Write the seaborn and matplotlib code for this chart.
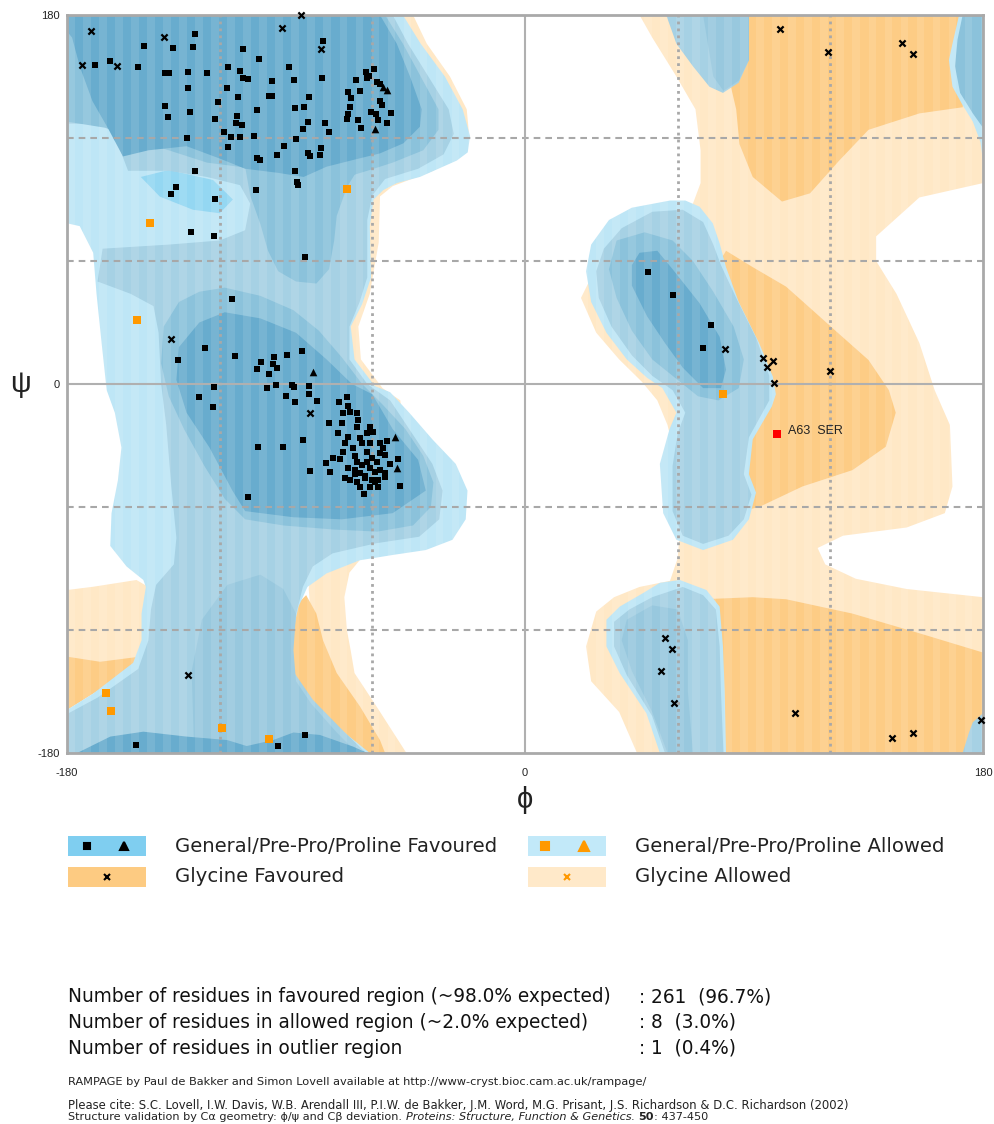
import numpy as np
import pandas as pd
import matplotlib
matplotlib.use("Agg")
import matplotlib.pyplot as plt
import seaborn as sns
from matplotlib.patches import Rectangle

# ---------------------------------------------------------------------------
# residues (phi, psi)
# ---------------------------------------------------------------------------
gen_fav_phi = [-129.6, -149.9, -138.5, -130.5, -110.8, -104.4, -169.1, -163.1, -152.1, -141.4, -139.8, -132.6,
               -125.0, -116.8, -112.1, -110.8, -108.7, -99.4, -132.3, -117.0, -112.8, -100.5, -99.4, -120.5,
               -141.5, -140.3, -131.8, -121.7, -113.2, -113.7, -111.2, -105.3, -118.3, -115.5, -112.0, -106.4,
               -132.8, -116.8, -105.3, -104.0, -97.3, -129.6, -137.3, -139.0, -121.7, -105.6,
               -79.3, -92.6, -90.8, -79.9, -84.8, -90.4, -86.7, -85.4, -87.1, -78.6, -77.2, -89.9, -94.6,
               -85.2, -84.5, -80.2, -80.4, -90.4, -89.6, -89.4,
               -59.2, -62.4, -61.4, -62.2, -66.4, -58.0, -57.0, -69.7, -64.8, -68.4, -57.0, -56.2, -68.8,
               -69.7, -69.8, -60.5, -58.6, -52.8, -65.5, -57.9, -54.1, -64.5,
               -131.3, -122.2, -86.6, -115.0, -125.6, -136.3, -114.0,
               -98.8, -93.5, -87.6, -103.9, -105.4, -98.9, -97.6, -100.5, -122.2, -128.0, -122.6, -97.9,
               -101.3, -91.5, -90.7, -85.0, -93.9, -85.0, -90.4, -81.9, -73.2, -87.1, -84.5, -78.2, -76.6,
               -76.9, -70.1, -69.4, -71.4, -68.8, -66.1, -72.0, -65.5, -73.4, -69.4, -70.7, -60.9, -62.2,
               -59.6, -64.8, -64.2, -57.0, -54.4, -67.5, -71.4, -62.2, -75.3, -72.7, -60.3, -57.0, -55.0,
               -49.8, -66.1, -64.2, -69.4, -66.8, -64.8, -60.9, -59.0, -57.0, -55.0, -70.7, -68.8, -66.1,
               -62.9, -60.2, -57.7, -55.0, -64.8, -60.9, -57.7, -49.1, -63.3, -108.7, -104.8, -95.2,
               -62.0, -58.0, -67.0, -61.0, -66.0, -63.0, -59.0, -67.0, -53.0, -56.0,
               -153.0, -97.1, -86.5,
               48.2, 58.1, 73.1, 70.1]
gen_fav_psi = [170.6, 164.9, 163.7, 164.2, 163.4, 158.5, 155.6, 157.7, 154.8, 151.5, 151.7, 152.3,
               151.9, 154.6, 152.7, 149.3, 148.6, 147.6, 144.2, 144.5, 140.1, 140.3, 140.6, 137.6,
               135.8, 130.2, 132.7, 129.4, 130.6, 127.3, 126.5, 133.5, 123.1, 120.3, 120.6, 121.1,
               119.8, 115.5, 110.2, 109.3, 111.9, 103.8, 96.1, 92.7, 90.2, 94.6,
               167.3, 154.5, 148.4, 149.4, 139.8, 134.5, 135.1, 127.8, 124.4, 127.2, 122.9, 119.4, 116.0,
               112.8, 111.2, 115.0, 111.9, 103.9, 98.7, 97.2,
               153.5, 152.2, 150.4, 149.1, 148.3, 147.5, 146.3, 142.6, 143.1, 139.7, 138.0, 136.1, 135.0,
               131.7, 129.4, 132.8, 131.7, 132.0, 128.6, 128.6, 127.2, 124.9,
               74.0, 72.3, 62.1, 41.5, 17.7, 11.6, 13.7,
               13.0, 14.0, 15.9, 10.6, 7.5, 9.6, 7.7, 5.0, -1.6, -6.2, -11.2, -0.5,
               -2.1, -0.5, -1.6, -1.0, -5.7, -5.0, -8.8, -8.4, -8.8, -27.3, -42.3, -38.7, -42.8,
               -18.9, -6.2, -10.7, -14.3, -13.5, -14.3, -18.9, -17.6, -24.0, -25.7, -28.9, -20.8, -24.0,
               -23.3, -26.5, -28.9, -28.6, -27.8, -31.4, -33.0, -33.0, -36.2, -36.6, -36.2, -33.8, -34.6,
               -36.7, -37.9, -39.5, -41.1, -42.0, -43.6, -41.1, -42.8, -42.0, -43.6, -46.0, -46.8, -47.6,
               -46.0, -46.8, -46.8, -45.2, -50.1, -50.1, -50.1, -49.8, -53.8, -55.3, -30.6, -30.9,
               -38.0, -38.0, -35.0, -29.0, -21.0, -45.0, -48.0, -44.0, -39.0, -31.0,
               -176.1, -176.4, -171.2,
               54.8, 43.3, 28.9, 17.7]

pro_fav_phi = [-55.7, -54.1, -59.0, -83.4, -51.1, -50.4]
pro_fav_psi = [145.0, 143.4, 124.2, 5.9, -26.0, -41.1]

gly_fav_phi = [-170.7, -141.8, -174.0, -160.2, -88.0, -95.4, -80.3, -139.0, -84.5, -132.6,
               100.3, 119.1, 148.2, 152.6, 78.6, 93.7, 97.6, 95.0, 97.9, 119.9,
               55.0, 57.9, 53.5, 58.6, 106.0, 144.4, 152.6, 179.2]
gly_fav_psi = [172.3, 169.1, 155.5, 155.3, 180.0, 173.5, 163.6, 22.1, -14.3, -142.0,
               173.0, 162.1, 166.5, 160.8, 17.2, 12.8, 11.2, 8.4, 0.6, 6.3,
               -124.0, -129.3, -140.0, -155.8, -160.3, -172.5, -170.4, -163.9]

allowed_phi = [-147.4, -152.4, -69.8, 77.7, -164.8, -162.8, -119.0, -100.6]
allowed_psi = [78.4, 31.2, 95.1, -5.0, -150.9, -159.5, -167.7, -173.2]

outlier_phi = [98.9]
outlier_psi = [-24.5]
outlier_label = ["A63  SER"]

stats_labels = ["Number of residues in favoured region (~98.0% expected)",
                "Number of residues in allowed region (~2.0% expected)",
                "Number of residues in outlier region"]
stats_values = [": 261  (96.7%)", ": 8  (3.0%)", ": 1  (0.4%)"]

# ---------------------------------------------------------------------------
# region outlines (phi, psi vertices)
# ---------------------------------------------------------------------------
gly_allowed_regions = [
    [(45, 180), (50, 169), (59.5, 150), (67, 134), (69, 114), (69, 98), (66, 88), (50, 78), (30, 62), (22, 42),
     (28, 25), (37, 12), (46, 1), (52, -8), (56, -20), (60, -40), (61, -70), (60, -85), (57, -96), (45, -99),
     (35, -104), (28, -111), (24, -128), (26, -145), (37, -160), (44, -180), (180, -180), (180, -104),
     (150, -100), (130, -95), (118, -88), (115, -80), (125, -74), (150, -70), (165, -63), (168, -50),
     (167, -20), (161, -3), (155, 20), (146, 44), (138, 60), (138, 72), (155, 91), (180, 98), (180, 180)],
    [(-55, 180), (-44, 180), (-38.6, 166), (-29.5, 150), (-22.9, 134), (-22, 122), (-36, 104), (-52, 96.5),
     (-57, 91.5), (-57.5, 69), (-61, 44), (-65.5, 28), (-64.5, 12), (-56, -2), (-49, -8), (-48, -20),
     (-60, -60), (-65, -86), (-69, -92), (-71, -104), (-70, -120), (-68.5, -130), (-67, -141), (-58.5, -157),
     (-46.6, -180), (-80, -180), (-85, -100), (-75, 0), (-75, 100), (-65, 150)],
    [(-180, -100.5), (-169.7, -98.9), (-152.7, -95.6), (-148, -99), (-140, -110), (-140, -140), (-154, -137),
     (-169.7, -151), (-180, -159)],
]
gly_favoured_regions = [
    [(75, 180), (80, 150), (83, 134), (84.3, 117), (89.5, 101), (101, 89), (112, 93), (123.5, 109), (135, 124),
     (155, 132), (172, 135), (174, 160), (172, 180)],
    [(79, 65), (89.5, 57), (102.6, 47.5), (113, 36), (122, 26), (135, 11.7), (143, -3), (145.7, -14),
     (141.8, -30.6), (128.7, -42), (109, -50), (92, -60), (85, -62), (80, -40), (75, -10), (70, 20), (72, 50)],
    [(70, -105), (89.5, -104), (102.6, -105), (128.7, -112), (155, -121.6), (180, -131), (180, -180), (70, -180)],
    [(-86, -103), (-82, -112), (-79.4, -125), (-74, -141), (-64.8, -157.4), (-57, -173.7), (-55, -180),
     (-75, -180), (-92, -150), (-93, -120), (-90, -108)],
    [(-180, -133), (-167, -135.5), (-151.3, -133), (-151, -135), (-156.5, -141), (-169.7, -151), (-180, -159)],
]
blue_allowed_regions = [
    [(-180, 180), (-48, 180), (-41, 166), (-31.5, 150), (-24.5, 134), (-21.6, 121), (-22.5, 113), (-26.8, 109),
     (-41.3, 101), (-50.4, 98), (-55.7, 94.6), (-59.5, 90), (-61, 77), (-60.5, 52), (-64, 39), (-68.5, 28),
     (-67, 12), (-59, -1), (-53, -4), (-45.5, -14), (-36.4, -27), (-27.2, -39), (-22.6, -52), (-23.3, -66),
     (-28.5, -76), (-39, -81), (-52, -83.4), (-65, -86), (-78, -92.4), (-85.5, -99), (-89, -108.6),
     (-92.6, -128), (-91.8, -141), (-84, -154), (-72, -169), (-61, -180), (-180, -180), (-180, -159),
     (-169.7, -151), (-154, -136), (-150.7, -125), (-150.7, -112), (-149, -99), (-150, -95.6), (-156.6, -89),
     (-163, -79), (-162.5, -63), (-160, -47), (-158.6, -31), (-161.2, -14), (-164.4, -3), (-166.4, 20),
     (-168.4, 44), (-169.7, 64), (-175, 77), (-180, 78.4)],
    [(57, 89.5), (63, 89.5), (68.6, 86.5), (73.8, 78.4), (76.5, 68.6), (79, 57), (84, 40), (92, 20), (97.4, 3.6),
     (98.6, -5), (97, -11), (89.5, -27), (88, -44), (90.8, -53), (88, -66), (81.7, -76), (70, -81), (59.5, -76),
     (54.3, -63), (53, -39), (56.8, -22), (59.5, -14), (54, -2), (48, 3), (40, 12), (32, 25), (26, 40),
     (24, 55), (26, 68), (33, 80), (42, 86)],
    [(60.8, -95.6), (71.3, -100.5), (76.5, -108.6), (77.8, -128), (78.5, -150), (79, -180), (53, -180),
     (47.7, -160.6), (37.2, -141), (32, -128), (32, -115), (37.2, -108.6), (46.4, -102), (53, -97)],
    [(170.6, 180), (180, 180), (180, 109), (179, 118), (176, 128), (172, 136), (168, 145), (166.6, 158),
     (168, 166)],
]
blue_bright_regions = [
    [(-151, 101), (-140, 104.4), (-122.6, 99.5), (-114.8, 90), (-120, 83.3), (-130.5, 85), (-143.5, 91.4)],
]
blue_mid_regions = [
    [(-180, 180), (-52, 180), (-46, 166), (-38, 150), (-30, 134), (-28, 122), (-32, 112), (-42, 105), (-55, 100),
     (-60, 92), (-62, 80), (-62, 52), (-65, 40), (-69, 28), (-69, 12), (-62, 0), (-53, -8), (-45.5, -22),
     (-36.4, -39), (-32.4, -52), (-33.7, -66), (-41.6, -74.5), (-58.6, -77.7), (-75.6, -82.6), (-83.4, -89),
     (-87.3, -99), (-89.9, -112), (-91.3, -128), (-90.6, -141), (-83.4, -154), (-71.6, -169), (-62.5, -180),
     (-180, -180), (-180, -161), (-168, -153), (-152, -139), (-148, -125), (-147, -110), (-145, -98),
     (-138, -88), (-137, -75), (-139, -50), (-141, -20), (-143, 0), (-144, 25), (-146, 38), (-155, 44),
     (-168, 50), (-166, 66), (-140, 68), (-120, 70), (-110, 75), (-108, 88), (-112, 97), (-125, 101),
     (-140, 104), (-156, 104), (-163, 127), (-180, 127)],
    [(50, 84), (62, 85), (70, 79), (74, 68), (77, 58), (83, 42), (91, 22), (96, 4), (96, -8), (88, -26),
     (86, -44), (89, -54), (86, -66), (80, -74), (70, -78), (62, -74), (58, -62), (58, -40), (60, -24),
     (63, -14), (58, -3), (50, 4), (42, 14), (34, 28), (29, 42), (28, 55), (31, 66), (38, 76)],
    [(62, -99), (70, -103), (75, -110), (76.5, -128), (77, -150), (78, -180), (55, -180), (50, -162),
     (40, -142), (35, -128), (35, -116), (41, -110), (50, -104)],
    [(55.5, 180), (88, 180), (88, 158), (84, 147), (77.8, 142), (72.5, 145), (66, 155), (59.5, 166)],
    [(172, -180), (180, -180), (180, -160.6), (176, -165), (174.5, -170)],
]
blue_midb_regions = [
    [(-130, -180), (-131, -140), (-127, -115), (-117, -98), (-104, -93), (-95, -100), (-90, -112), (-91, -130),
     (-90, -145), (-84, -156), (-74, -170), (-66, -180)],
    [(40, -115), (50, -108), (60, -110), (64, -125), (64, -150), (66, -180), (56, -180), (50, -160),
     (42, -140), (38, -125)],
    [(70, 180), (88, 180), (88, 158), (84, 148), (78, 143), (74, 150), (72, 165)],
]
blue_dark_regions = [
    [(-180, 180), (-55, 180), (-48, 166), (-41, 150), (-34, 134), (-34, 124), (-40, 114), (-52, 108),
     (-62, 104), (-70, 101), (-100, 104), (-125, 108), (-150, 118), (-165, 125), (-180, 128)],
    [(-110, 106), (-108, 92), (-104, 78), (-101, 65), (-97, 55), (-90, 50), (-82, 49), (-77, 56), (-75, 70),
     (-74, 82), (-70, 96), (-66, 104)],
    [(-142, 28), (-136, 40), (-128, 45), (-118, 47), (-104, 43), (-91, 36), (-81, 26), (-72, 13), (-64, 0),
     (-56, -10), (-47, -22), (-40, -35), (-36, -48), (-37, -60), (-44, -69), (-58, -72), (-75, -71),
     (-95, -69), (-110, -66), (-118, -56), (-126, -40), (-134, -22), (-140, -6), (-143, 10)],
    [(36, 70), (47, 74), (58, 70), (66, 60), (74, 45), (82, 28), (86, 12), (84, -2), (76, -8), (68, -6),
     (60, 2), (50, 12), (42, 26), (36, 42), (33, 56)],
    [(172, 180), (180, 180), (180, 125), (176, 132), (171, 142), (169, 155), (170, 168)],
]
blue_core_regions = [
    [(-180, 180), (-57, 180), (-50.4, 166), (-45.2, 150), (-40.6, 134), (-41.3, 125.5), (-47.8, 117.4),
     (-57, 112.5), (-67.5, 109.3), (-78, 106), (-87, 101), (-97, 103), (-110, 105), (-120, 110), (-133, 116),
     (-148, 114), (-158, 111), (-164, 125), (-170, 138), (-175, 155), (-178, 169), (-180, 172)],
    [(-137, 2), (-136, 18), (-128, 30), (-118, 35), (-104, 32), (-90, 25), (-78, 12), (-68, 0), (-60, -5),
     (-52, -22), (-42, -37), (-39, -52), (-52, -63), (-72, -66), (-91, -65), (-110, -62), (-115, -52),
     (-124, -31), (-133, -14)],
    [(45, 64), (52, 65), (58, 56), (68.6, 39.4), (76.5, 23), (79, 7), (77, -2), (70, -2), (62, 8), (55, 20),
     (48, 33), (42, 48), (42, 58)],
    [(-180, -180), (-176, -180), (-163, -172), (-150, -169.6), (-133, -172), (-117, -173.7), (-109.4, -176.6),
     (-99, -173.7), (-91, -170), (-80.6, -171.2), (-67.5, -176.9), (-62, -180)],
]

region_layers = [
    (gly_allowed_regions, "#FFE8C6"),
    (gly_favoured_regions, "#FDCC85"),
    (blue_allowed_regions, "#BEE6F6"),
    (blue_bright_regions, "#94D7F2"),
    (blue_mid_regions, "#A6D1E4"),
    (blue_midb_regions, "#98C8DE"),
    (blue_dark_regions, "#8BC2DB"),
    (blue_core_regions, "#68ACCE"),
]

# ---------------------------------------------------------------------------
sns.set_theme(style="white")
plt.rcParams['font.family'] = ['Liberation Sans', 'DejaVu Sans']
plt.rcParams['axes.unicode_minus'] = False

W, H = 995, 1124
fig = plt.figure(figsize=(W / 100, H / 100), dpi=100)
ax = fig.add_axes([67 / W, 1 - 753 / H, 916 / W, 738 / H])

for z, (polys, col) in enumerate(region_layers):
    for poly in polys:
        arr = np.array(poly, dtype=float)
        ax.fill(arr[:, 0], arr[:, 1], color=col, lw=0, zorder=1 + z * 0.1)

# faint vertical banding seen in the rendered background
for p in np.arange(-180, 180, 6.3):
    ax.axvspan(p, p + 3, color="white", alpha=0.1, lw=0, zorder=2)

# grid
for v in (-120, -60, 60, 120):
    ax.axvline(v, color="#A8A8A8", lw=2, ls=(0, (1, 1.5)), zorder=3)
    ax.axhline(v, color="#A8A8A8", lw=1.5, ls=(0, (3.2, 2.4)), zorder=3)
ax.axvline(0, color="#B0B0B0", lw=1.5, zorder=3)
ax.axhline(0, color="#B0B0B0", lw=1.5, zorder=3)

# residues
pts = dict(clip_on=False, zorder=5, legend=False, ax=ax)
sns.scatterplot(x=gen_fav_phi, y=gen_fav_psi, marker="s", color="black", s=17, linewidth=0, **pts)
sns.scatterplot(x=pro_fav_phi, y=pro_fav_psi, marker="^", color="black", s=30, linewidth=0, **pts)
sns.scatterplot(x=gly_fav_phi, y=gly_fav_psi, marker="x", color="black", s=20, linewidth=1.6, **pts)
sns.scatterplot(x=allowed_phi, y=allowed_psi, marker="s", color="#FF9900", s=30, linewidth=0, **pts)
sns.scatterplot(x=outlier_phi, y=outlier_psi, marker="s", color="#FF0000", s=30, linewidth=0, **pts)
for ph, ps, lab in zip(outlier_phi, outlier_psi, outlier_label):
    ax.text(ph + 4.5, ps + 1.5, lab, fontsize=9, color="#222222", va="center", zorder=6)

ax.set_xlim(-180, 180)
ax.set_ylim(-180, 180)
ax.set_xticks([-180, 0, 180])
ax.set_yticks([-180, 0, 180])
ax.tick_params(axis="both", length=0, labelsize=8, colors="#222222")
ax.tick_params(axis="x", pad=11)
ax.tick_params(axis="y", pad=5)
ax.set_xlabel("")
ax.set_ylabel("")
for s in ax.spines.values():
    s.set_color("#A9A9A9")
    s.set_linewidth(2)
    s.set_zorder(4)

# ---------------------------------------------------------------------------
# overlay in pixel coordinates for labels, key and notes
ov = fig.add_axes([0, 0, 1, 1], facecolor="none")
ov.set_xlim(0, W)
ov.set_ylim(H, 0)
ov.axis("off")
renderer = fig.canvas.get_renderer()
wide = ["DejaVu Sans"]


def fit(t, width):
    bb = t.get_window_extent(renderer)
    t.set_fontsize(t.get_fontsize() * width / bb.width)
    return t.get_fontsize()


ov.text(20, 384, "ψ", fontsize=21, ha="center", va="center", color="#222222")
ov.text(525, 800, "ϕ", fontsize=21, ha="center", va="center", color="#222222")

# key
key = [
    (68, 846, "#7FCEF0", "General/Pre-Pro/Proline Favoured", [(87, "s", "black", 4.5), (124, "^", "black", 6)]),
    (528, 846, "#C2E9F9", "General/Pre-Pro/Proline Allowed", [(545, "s", "#FF9900", 5.5), (584, "^", "#FF9900", 6.5)]),
    (68, 877, "#FDCB82", "Glycine Favoured", [(107, "x", "black", 4.5)]),
    (528, 877, "#FFE9C9", "Glycine Allowed", [(567, "x", "#FF9900", 4.5)]),
]
key_fs = None
for x0, yc, col, lab, marks in key:
    ov.add_patch(Rectangle((x0, yc - 10), 78, 20, color=col, lw=0))
    for mx, mk, mc, ms in marks:
        ov.plot([mx], [yc], marker=mk, color=mc, ms=ms, mew=1.5, ls="none")
    t = ov.text(x0 + 107, yc, lab, fontsize=13, va="center", color="#222222", family=wide)
    if key_fs is None:
        key_fs = fit(t, 323)
    else:
        t.set_fontsize(key_fs)

# statistics
t = ov.text(68, 997, stats_labels[0], fontsize=13, va="center", color="#111111", family=wide)
st_fs = fit(t, 544)
for i, (lab, val) in enumerate(zip(stats_labels, stats_values)):
    y = 997 + i * 25.5
    if i:
        ov.text(68, y, lab, fontsize=st_fs, va="center", color="#111111", family=wide)
    ov.text(639, y, val, fontsize=st_fs, va="center", color="#111111", family=wide)

# citation
t = ov.text(68, 1082, "RAMPAGE by Paul de Bakker and Simon Lovell available at "
            "http://www-cryst.bioc.cam.ac.uk/rampage/", fontsize=6, va="center", color="#222222", family=wide)
fit(t, 582)
t = ov.text(68, 1105, "Please cite: S.C. Lovell, I.W. Davis, W.B. Arendall III, P.I.W. de Bakker, J.M. Word, "
            "M.G. Prisant, J.S. Richardson & D.C. Richardson (2002)", fontsize=6, va="center", color="#222222",
            family=wide)
ref_fs = fit(t, 788)

pieces = [("Structure validation by Cα geometry: ϕ/ψ and Cβ deviation. ", "normal", "normal"),
          ("Proteins: Structure, Function & Genetics", "italic", "normal"),
          (". ", "normal", "normal"),
          ("50", "normal", "bold"),
          (": 437-450", "normal", "normal")]
# measure the full line once, then lay it out at a size that spans the target width
probe = [ov.text(0, 0, txt, fontsize=ref_fs, style=st, weight=wt, family=wide) for txt, st, wt in pieces]
total = sum(p.get_window_extent(renderer).width for p in probe)
for p in probe:
    p.remove()
line_fs = ref_fs * 640 / total
xc = 68
for txt, style, weight in pieces:
    t = ov.text(xc, 1117, txt, fontsize=line_fs, va="center", style=style, weight=weight, color="#222222",
                family=wide)
    xc += t.get_window_extent(renderer).width

fig.savefig("out.png", dpi=100)
